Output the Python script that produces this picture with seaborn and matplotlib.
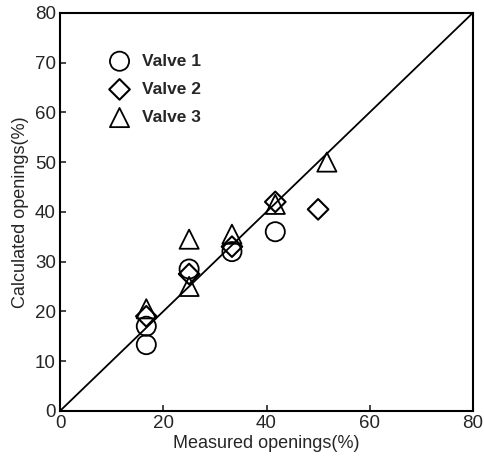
import matplotlib
matplotlib.use("Agg")
import matplotlib.pyplot as plt
import seaborn as sns
import pandas as pd

valve1_x = [16.7, 16.7, 25.0, 33.3, 41.7]
valve1_y = [17.0, 13.3, 28.5, 32.0, 36.0]
valve2_x = [16.7, 25.0, 33.3, 41.7, 50.0]
valve2_y = [19.0, 27.5, 33.0, 42.0, 40.5]
valve3_x = [16.7, 25.0, 25.0, 33.3, 41.7, 51.7]
valve3_y = [20.5, 34.5, 25.0, 35.5, 41.5, 50.0]
labels = ["Valve 1", "Valve 2", "Valve 3"]
ticks = [0, 20, 40, 60, 80]
yticks = [0, 10, 20, 30, 40, 50, 60, 70, 80]

df = pd.concat([
    pd.DataFrame({"x": valve1_x, "y": valve1_y, "valve": labels[0]}),
    pd.DataFrame({"x": valve2_x, "y": valve2_y, "valve": labels[1]}),
    pd.DataFrame({"x": valve3_x, "y": valve3_y, "valve": labels[2]}),
])

sns.set_style("ticks")
plt.rcParams["font.family"] = ["Liberation Sans", "DejaVu Sans"]

fig = plt.figure(figsize=(4.85, 4.59), dpi=100)
ax = fig.add_axes([0.124, 0.105, 0.851, 0.867])

ax.plot([0, 80], [0, 80], color="black", lw=1.3, zorder=1)

markers = {labels[0]: "o", labels[1]: "D", labels[2]: "^"}
sizes = {labels[0]: 190, labels[1]: 110, labels[2]: 190}
widths = {labels[0]: 1.3, labels[1]: 1.5, labels[2]: 1.3}
for lab in labels:
    sub = df[df["valve"] == lab]
    sns.scatterplot(data=sub, x="x", y="y", marker=markers[lab], s=sizes[lab],
                    facecolor="none", edgecolor="black", linewidth=widths[lab],
                    ax=ax, label=lab, zorder=3)

ax.set_xlim(0, 80)
ax.set_ylim(0, 80)
ax.set_xticks(ticks)
ax.set_yticks(yticks)
ax.tick_params(direction="in", length=4, width=1.2, labelsize=13.5, pad=3)
for sp in ax.spines.values():
    sp.set_linewidth(1.5)
    sp.set_color("black")
ax.set_xlabel("Measured openings(%)", fontsize=13, labelpad=2)
ax.set_ylabel("Calculated openings(%)", fontsize=13, labelpad=4)

leg = ax.legend(loc="upper left", bbox_to_anchor=(0.085, 0.915), frameon=False,
                fontsize=12.5, handletextpad=0.3, labelspacing=0.75,
                borderaxespad=0)
for t in leg.get_texts():
    t.set_fontweight("bold")
for h in leg.legend_handles:
    h.set_facecolor("none")
    h.set_edgecolor("black")

fig.savefig("out.png", dpi=100)
